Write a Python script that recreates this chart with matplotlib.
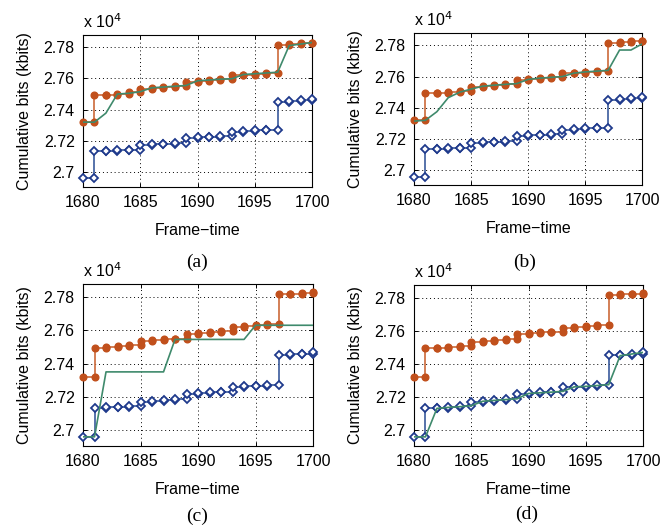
import matplotlib
matplotlib.use('Agg')

import numpy as np
import matplotlib.pyplot as plt

# --- data (cumulative bits, in units of 1e4 kbits) ---
frames = np.arange(1680, 1701)

upper = [2.7320, 2.7495, 2.7497, 2.7503, 2.7510, 2.7535, 2.7540, 2.7545, 2.7550,
         2.7580, 2.7585, 2.7590, 2.7595, 2.7620, 2.7625, 2.7630, 2.7635, 2.7815,
         2.7820, 2.7825, 2.7830]

lower = [2.6960, 2.7135, 2.7137, 2.7140, 2.7145, 2.7172, 2.7178, 2.7182, 2.7188,
         2.7220, 2.7225, 2.7228, 2.7232, 2.7260, 2.7263, 2.7268, 2.7273, 2.7452,
         2.7455, 2.7460, 2.7470]

actual_a = [2.7320, 2.7320, 2.7378, 2.7500, 2.7505, 2.7515, 2.7540, 2.7545, 2.7550,
            2.7555, 2.7585, 2.7590, 2.7595, 2.7598, 2.7625, 2.7630, 2.7635, 2.7640,
            2.7810, 2.7820, 2.7830]

actual_b = [2.7315, 2.7320, 2.7375, 2.7465, 2.7500, 2.7520, 2.7538, 2.7545, 2.7550,
            2.7555, 2.7582, 2.7590, 2.7595, 2.7600, 2.7622, 2.7630, 2.7635, 2.7640,
            2.7770, 2.7770, 2.7810]

actual_c = [2.6960, 2.6960, 2.7350, 2.7350, 2.7350, 2.7350, 2.7350, 2.7350, 2.7545,
            2.7545, 2.7545, 2.7545, 2.7545, 2.7545, 2.7545, 2.7630, 2.7630, 2.7630,
            2.7630, 2.7630, 2.7630]

actual_d = [2.6960, 2.6960, 2.7132, 2.7138, 2.7142, 2.7148, 2.7175, 2.7180, 2.7185,
            2.7190, 2.7222, 2.7226, 2.7230, 2.7235, 2.7262, 2.7265, 2.7270, 2.7275,
            2.7450, 2.7460, 2.7470]

panels = [('(a)', actual_a), ('(b)', actual_b), ('(c)', actual_c), ('(d)', actual_d)]

# axes rectangles in figure fractions [left, bottom, width, height]
rects = [[0.1254, 0.6485, 0.3460, 0.2857],
         [0.6254, 0.6520, 0.3450, 0.2857],
         [0.1254, 0.1617, 0.3475, 0.3045],
         [0.6254, 0.1617, 0.3460, 0.3030]]
# caption positions (figure fractions)
cap_pos = [(0.298, 0.507), (0.793, 0.507), (0.298, 0.030), (0.796, 0.034)]

ORANGE = '#c1501c'
BLUE = '#1f3a8c'
GREEN = '#3f8a6c'
FS = 11.5


def staircase(x, v):
    # each frame has the value before and after the new frame is added
    xs = [x[0]]
    ys = [v[0]]
    for i in range(1, len(x)):
        xs += [x[i], x[i]]
        ys += [v[i - 1], v[i]]
    return np.array(xs), np.array(ys)


plt.rcParams['font.family'] = ['Liberation Sans', 'DejaVu Sans']

fig = plt.figure(figsize=(6.62, 5.32), dpi=100)

for (cap, act), r, cp in zip(panels, rects, cap_pos):
    ax = fig.add_axes(r)
    ux, uy = staircase(frames, upper)
    lx, ly = staircase(frames, lower)
    ax.plot(ux, uy, '-', color='#cc6a3a', lw=1.2, zorder=3)
    ax.plot(ux, uy, 'o', color=ORANGE, ms=4.8, mec=ORANGE, zorder=4, clip_on=False)
    ax.plot(lx, ly, '-', color='#3a5a9c', lw=1.2, zorder=3)
    ax.plot(lx, ly, 'D', color=BLUE, ms=4.2, mfc='white', mec=BLUE, mew=1.3,
            zorder=4, clip_on=False)
    ax.plot(frames, act, '-', color=GREEN, lw=1.2, zorder=5)

    ax.set_xlim(1680, 1700)
    ax.set_ylim(2.6905, 2.7878)
    ax.set_xticks([1680, 1685, 1690, 1695, 1700])
    ax.set_yticks([2.70, 2.72, 2.74, 2.76, 2.78])
    ax.set_yticklabels(['2.7', '2.72', '2.74', '2.76', '2.78'])
    ax.tick_params(direction='in', top=True, right=True, labelsize=FS,
                   length=3, width=0.7, pad=6)
    ax.grid(True, color='black', linestyle=(0, (1, 3)), linewidth=0.7)
    for s in ax.spines.values():
        s.set_linewidth(0.8)

    ax.set_xlabel('Frame\u2212time', fontsize=FS, labelpad=9)
    ax.set_ylabel('Cumulative bits (kbits)', fontsize=FS, labelpad=8)
    ax.text(0.0, 1.025, 'x 10$^4$', transform=ax.transAxes, fontsize=FS,
            ha='left', va='bottom')
    fig.text(cp[0], cp[1], cap, fontsize=14, family='Liberation Serif',
             ha='center', va='center')

fig.savefig('out.png', dpi=100)
